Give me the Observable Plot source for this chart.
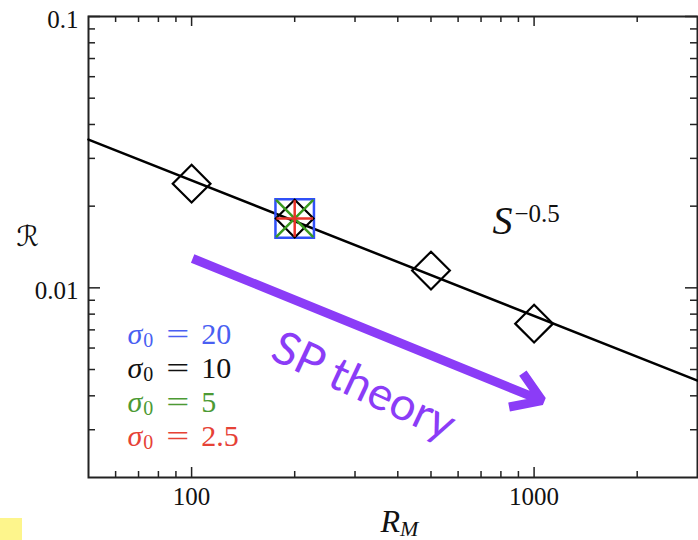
<!DOCTYPE html>
<html><head><meta charset="utf-8">
<script src="https://cdn.jsdelivr.net/npm/d3@7"></script>
<script src="https://cdn.jsdelivr.net/npm/@observablehq/plot@0.6"></script>
<style>
body{margin:0;background:#fff;}
#chart{position:relative;width:698px;height:540px;overflow:hidden;background:#fff}
#note{position:absolute;left:0;top:518px;width:22px;height:22px;background:#fdf58c}
</style></head><body>
<div id="chart"><div id="note"></div></div>
<script>
// ---- data ----
const rmValues   = [100, 200, 500, 1000];           // sigma0 = 10 (black diamonds)
const sigma10R   = [0.0242, 0.0180, 0.01158, 0.00738];
const sigma20RM  = [200];  const sigma20R  = [0.0180];   // blue squares
const sigma5RM   = [200];  const sigma5R   = [0.0180];   // green crosses
const sigma25RM  = [200];  const sigma25R  = [0.0180];   // red plus
const fitRM      = [50, 3000];
const fitR       = [0.0352, 0.00455];                 // S^-0.5 line
const sigmaLabels = ["20", "10", "5", "2.5"];
const sigmaColors = ["#4a5ff2", "#111111", "#4c9a34", "#e64236"];
const xMajor = [100, 1000];
const xMinor = [60, 70, 80, 90, 200, 300, 400, 500, 600, 700, 800, 900, 2000];
const yMajor = [0.01, 0.1];
const yMinor = [0.003, 0.004, 0.005, 0.006, 0.007, 0.008, 0.009, 0.02, 0.03, 0.04, 0.05, 0.06, 0.07, 0.08, 0.09];
const xTickLabels = ["100", "1000"];
const yTickLabels = ["0.01", "0.1"];
const arrowRM = [100.7, 1055];
const arrowR  = [0.01283, 0.00384];

// ---- layout ----
const W = 698, H = 540, mL = 88, mR = 1, mT = 16, mB = 63;
const fw = W - mL - mR, fh = H - mT - mB;
const serif = "'Liberation Serif', 'Times New Roman', serif";
const purple = "#8b3cf7";

const pts = (xs, ys) => xs.map((x, i) => ({x, y: ys[i]}));
const arrowData = [{x1: arrowRM[0], y1: arrowR[0], x2: arrowRM[1], y2: arrowR[1]}];

const marks = [
  Plot.frame({stroke: "#222", strokeWidth: 2}),
  // inward ticks, four sides
  Plot.tickX(xMajor, {x: d => d, insetBottom: fh - 10, stroke: "#222", strokeWidth: 1.5}),
  Plot.tickX(xMajor, {x: d => d, insetTop: fh - 10, stroke: "#222", strokeWidth: 1.5}),
  Plot.tickX(xMinor, {x: d => d, insetBottom: fh - 6, stroke: "#222", strokeWidth: 1.5}),
  Plot.tickX(xMinor, {x: d => d, insetTop: fh - 6, stroke: "#222", strokeWidth: 1.5}),
  Plot.tickY(yMajor, {y: d => d, insetRight: fw - 12, stroke: "#222", strokeWidth: 1.5}),
  Plot.tickY(yMajor, {y: d => d, insetLeft: fw - 12, stroke: "#222", strokeWidth: 1.5}),
  Plot.tickY(yMinor, {y: d => d, insetRight: fw - 7, stroke: "#222", strokeWidth: 1.5}),
  Plot.tickY(yMinor, {y: d => d, insetLeft: fw - 7, stroke: "#222", strokeWidth: 1.5}),
  // tick labels
  Plot.axisX({ticks: xMajor, tickSize: 0, tickPadding: 10, label: null,
    tickFormat: d => xTickLabels[xMajor.indexOf(d)], fontSize: 25, fill: "#111"}),
  Plot.axisY({ticks: yMajor, tickSize: 0, tickPadding: 10, label: null, dy: 3,
    tickFormat: d => yTickLabels[yMajor.indexOf(d)], fontSize: 25, fill: "#111"}),
  // fit line
  Plot.line(pts(fitRM, fitR), {x: "x", y: "y", stroke: "#000", strokeWidth: 2.5}),
  // markers
  Plot.dot(pts(sigma20RM, sigma20R), {x: "x", y: "y", symbol: "square2", r: 24.5, stroke: "#3050f8", strokeWidth: 2.5}),
  Plot.dot(pts(rmValues, sigma10R), {x: "x", y: "y", symbol: "diamond2", r: 17, stroke: "#000", strokeWidth: 2.2}),
  Plot.dot(pts(sigma5RM, sigma5R), {x: "x", y: "y", symbol: "times", r: 17, stroke: "#3a9a20", strokeWidth: 2.5}),
  Plot.dot(pts(sigma25RM, sigma25R), {x: "x", y: "y", symbol: "plus", r: 11.8, stroke: "#e8332a", strokeWidth: 2.5}),
  // SP theory arrow
  Plot.arrow(arrowData, {x1: "x1", y1: "y1", x2: "x2", y2: "y2", stroke: purple, strokeWidth: 9,
    headLength: 5.6, headAngle: 66, strokeLinejoin: "miter", strokeLinecap: "butt"}),
  Plot.text(["SP theory"], {frameAnchor: "top-left", dx: 363 - mL, dy: 386 - mT, text: d => d,
    rotate: 25, fill: purple, fontSize: 46, fontFamily: "Lato, 'Open Sans', sans-serif",
    textAnchor: "middle", lineAnchor: "middle"}),
  // annotations (markup expanded into tspans below)
  Plot.text(["\u00A7slope"], {frameAnchor: "top-left", dx: 492 - mL, dy: 233 - mT, text: d => d,
    textAnchor: "start", lineAnchor: "bottom", fill: "#111"}),
  Plot.text(["\u00A7xlabel"], {frameAnchor: "top-left", dx: 380 - mL, dy: 531 - mT, text: d => d,
    textAnchor: "start", lineAnchor: "bottom", fill: "#111"}),
  Plot.text(["\u211B"], {frameAnchor: "top-left", dx: 27 - mL, dy: 237 - mT, text: d => d,
    textAnchor: "middle", lineAnchor: "middle", fontSize: 28, fill: "#111",
    fontFamily: "'DejaVu Serif', 'DejaVu Sans', serif"}),
  ...sigmaLabels.map((s, i) => Plot.text([s], {frameAnchor: "top-left", dx: 127 - mL, dy: 343 - mT + 34 * i,
    text: d => "\u00A7sig:" + d, fill: sigmaColors[i], textAnchor: "start", lineAnchor: "bottom"}))
];

const svg = Plot.plot({
  width: W, height: H, marginLeft: mL, marginRight: mR, marginTop: mT, marginBottom: mB,
  x: {type: "log", domain: [50, 3000]},
  y: {type: "log", domain: [0.002, 0.1]},
  style: {fontFamily: serif, background: "#fff", color: "#111", overflow: "visible"},
  marks
});

// rich text (italic / subscripts / superscripts)
const NS = "http://www.w3.org/2000/svg";
function setParts(t, parts) {
  t.textContent = "";
  parts.forEach(p => {
    const ts = document.createElementNS(NS, "tspan");
    ts.textContent = p.t;
    if (p.italic) ts.setAttribute("font-style", "italic");
    if (p.size) ts.setAttribute("font-size", p.size);
    if (p.dx) ts.setAttribute("dx", p.dx);
    if (p.dy) ts.setAttribute("dy", p.dy);
    if (p.family) ts.setAttribute("font-family", p.family);
    if (p.len) { ts.setAttribute("textLength", p.len); ts.setAttribute("lengthAdjust", "spacingAndGlyphs"); }
    t.appendChild(ts);
  });
}
svg.querySelectorAll("text").forEach(t => {
  const s = t.textContent;
  if (s.startsWith("\u00A7sig:")) {
    const v = s.slice(5);
    setParts(t, [
      {t: "\u03C3", italic: true, size: 30},
      {t: "0", size: 20, dy: 3, dx: 1},
      {t: "=", size: 30, dx: 13, dy: -3, len: 23},
      {t: v, size: 30, dx: 12}
    ]);
  } else if (s === "\u00A7slope") {
    setParts(t, [
      {t: "S", italic: true, size: 40},
      {t: "\u22120.5", size: 25, dy: -12, dx: 2}
    ]);
  } else if (s === "\u00A7xlabel") {
    setParts(t, [
      {t: "R", italic: true, size: 32},
      {t: "M", italic: true, size: 22, dy: 4}
    ]);
  }
});

document.getElementById("chart").prepend(svg);
</script>
</body></html>
